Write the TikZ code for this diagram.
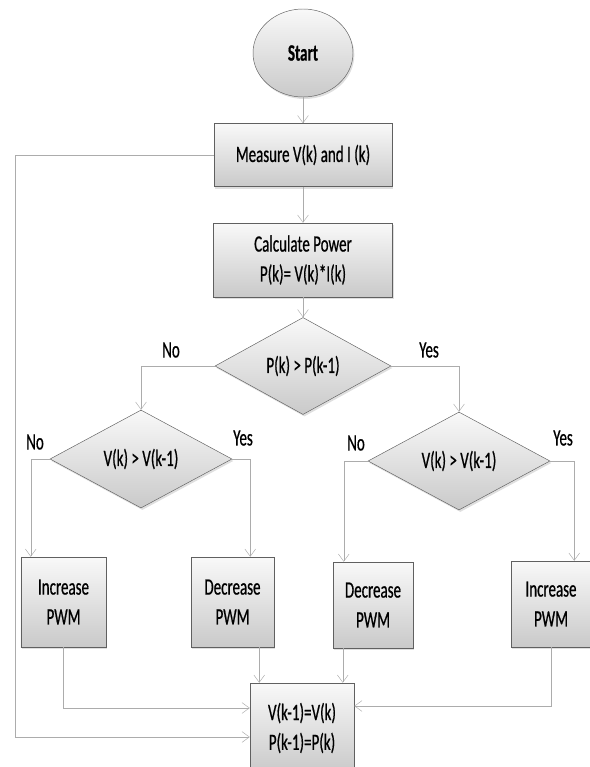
\documentclass[tikz,border=0pt]{standalone}
\usepackage{fontspec}
\setmainfont{Carlito}[FakeStretch=0.64,FakeBold=0.6]
\usetikzlibrary{shapes.geometric,shadows,arrows.meta}

\begin{document}
\begin{tikzpicture}[x=0.3mm,y=-0.3mm,
    box/.style={draw=gray!75!black, top color=gray!5, bottom color=gray!42,
      drop shadow={opacity=0.25,shadow xshift=0.4mm,shadow yshift=-0.6mm},
      align=center, inner sep=0pt, font=\fontsize{20}{25.5}\selectfont},
    decision/.style={box, diamond, minimum width=54.6mm, minimum height=29.4mm},
    arrow/.style={draw=gray!65, -{Straight Barb[length=2.2mm,width=3.2mm]}},
    lbl/.style={font=\fontsize{20}{22}\selectfont}]
    \useasboundingbox (0,0) rectangle (590,767);
    \node[box, ellipse, minimum width=30mm, minimum height=26.4mm,
      font=\fontsize{20}{22}\selectfont\bfseries] (start) at (303,53) {Start};
    \node[box, minimum width=53.4mm, minimum height=18.9mm] (measure) at (303,155) {Measure V(k) and I (k)};
    \node[box, minimum width=53.7mm, minimum height=22.2mm] (calc) at (303,260) {Calculate Power\\P(k)= V(k)*I(k)};
    \node[decision, minimum width=52.8mm, minimum height=29.1mm] (dp) at (303,366) {P(k) > P(k-1)};
    \node[decision] (dvl) at (141,459) {V(k) > V(k-1)};
    \node[decision] (dvr) at (459,461) {V(k) > V(k-1)};
    % pwm boxes
    \node[box, minimum width=25.5mm, minimum height=27mm] (incl) at (63.5,602) {Increase\\PWM};
    \node[box, minimum width=24.9mm, minimum height=27mm] (decl) at (232.5,602) {Decrease\\PWM};
    \node[box, minimum width=24mm, minimum height=25.8mm] (decr) at (373,605) {Decrease\\PWM};
    \node[box, minimum width=24mm, minimum height=25.8mm] (incr) at (551,604) {Increase\\PWM};
    \node[box, minimum width=31.2mm, minimum height=27mm] (final) at (302,728) {V(k-1)=V(k)\\P(k-1)=P(k)};
    % labels
    \node[lbl] (no1) at (171,350) {No};
    \node[lbl] (yes1) at (429,350) {Yes};
    \node[lbl] (no2) at (35,442) {No};
    \node[lbl] (yes2) at (243,438) {Yes};
    \node[lbl] (no3) at (356,443) {No};
    \node[lbl] (yes3) at (563,438) {Yes};
    % main column
    \draw[arrow] (start) -- (measure);
    \draw[arrow] (measure) -- (calc);
    \draw[arrow] (calc) -- (dp);
    \draw[arrow] (dp.west) -| (dvl.north);
    \draw[arrow] (dp.east) -| (dvr.north);
    % branches
    \draw[arrow] (dvl.west) -| ([xshift=3mm]incl.north west);
    \draw[arrow] (dvl.east) -| ([xshift=-7.2mm]decl.north east);
    \draw[arrow] (dvr.west) -| ([xshift=3.3mm]decr.north west);
    \draw[arrow] (dvr.east) -| ([xshift=-5.1mm]incr.north east);
    % into final box
    \coordinate (dlout) at ([xshift=-4.5mm]decl.south east);
    \coordinate (drout) at ([xshift=3mm]decr.south west);
    \draw[arrow] (incl.south) |- ([yshift=6mm]final.west);
    \draw[arrow] (dlout) -- (dlout |- final.north);
    \draw[arrow] (drout) -- (drout |- final.north);
    \draw[arrow] (incr.south) |- ([yshift=6.6mm]final.east);
    % loop back
    \coordinate (loop) at (15,155);
    \draw[arrow] (measure.west) -- (loop) |- ([yshift=-2.7mm]final.west);
\end{tikzpicture}
\end{document}
